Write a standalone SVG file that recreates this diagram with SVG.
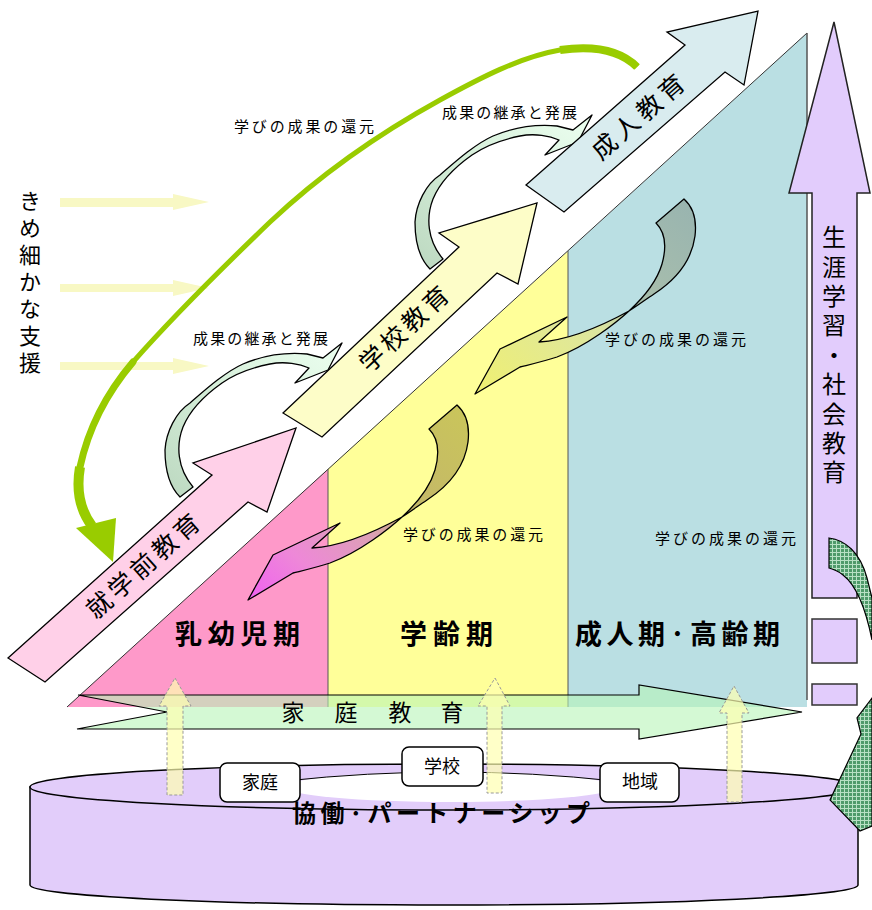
<svg xmlns="http://www.w3.org/2000/svg" width="872" height="910" viewBox="0 0 872 910">
<defs>
<style>
text{font-family:"Noto Sans CJK JP","Noto Sans CJK SC",sans-serif;fill:#000}
.lbl{font-size:15px}
.big{font-size:27px;font-weight:700}
.vt{writing-mode:vertical-rl}
.out{stroke:#000;stroke-width:1.3;stroke-linejoin:round}
.vup{fill:#ffffb0;fill-opacity:0.7;stroke:#999;stroke-width:1;stroke-dasharray:3 2}
.side{fill:#f8f8c4}
.box{fill:#fff;stroke:#000;stroke-width:1.5}
.blk{fill:#e2ccfc;stroke:#333;stroke-width:1.5}
</style>
<pattern id="hatch" width="4" height="4" patternUnits="userSpaceOnUse">
<rect width="4" height="4" fill="#4f9a6a"/>
<path d="M0,0.5 H4 M0.5,0 V4" stroke="#b8e0c4" stroke-width="1"/>
</pattern>
<linearGradient id="gC" x1="0" y1="1" x2="1" y2="0">
<stop offset="0" stop-color="#bcd8c0"/><stop offset="0.5" stop-color="#d6efda"/><stop offset="1" stop-color="#ecfff0"/>
</linearGradient>
<linearGradient id="gB" x1="1" y1="0" x2="0" y2="1">
<stop offset="0" stop-color="#cac65a"/><stop offset="0.38" stop-color="#c4b868"/><stop offset="0.55" stop-color="#dca0b4"/><stop offset="0.78" stop-color="#ee88d8"/><stop offset="1" stop-color="#f060f0"/>
</linearGradient>
<linearGradient id="gA" x1="1" y1="0" x2="0" y2="1">
<stop offset="0" stop-color="#98b4b0"/><stop offset="0.38" stop-color="#a8beac"/><stop offset="0.55" stop-color="#dde6a0"/><stop offset="1" stop-color="#f0f070"/>
</linearGradient>
<path id="curveC" d="M180,497 C170,487 165,470 165,450 C166,432 176,412 190,403 C205,390 225,372 243,364 C262,356 285,352 307,354 L323,358 L342,343 L328,370 L295,383 L309,368 C300,364 285,361 270,364 C250,368 235,374 222,383 C205,395 190,410 183,427 C176,445 177,468 193,487 Z"/>
<path id="ribbon" d="M429,429 L457,405 C466,413 470,425 468,442 C465,465 450,485 427,500 C418,506 410,512 402,517 C390,528 360,552 330,563 C318,567 305,570 293,573 L248,600 L273,555 L340,523 L312,548 C330,547 360,540 402,517 C415,505 430,487 435,470 C440,452 438,438 429,429 Z"/>
</defs>

<rect width="872" height="910" fill="#fff"/>

<g id="life-stages">
<polygon points="67,707 328,469 328,707" fill="#fe99c9"/>
<polygon points="328,469 568,251 568,707 328,707" fill="#ffff99"/>
<polygon points="568,251 807,33 807,707 568,707" fill="#badfe3"/>
<line x1="67" y1="707" x2="807" y2="33" stroke="#333" stroke-width="1"/>
<line x1="328" y1="469" x2="328" y2="707" stroke="#555" stroke-width="1"/>
<line x1="568" y1="251" x2="568" y2="707" stroke="#555" stroke-width="1"/>
<line x1="807" y1="33" x2="807" y2="700" stroke="#555" stroke-width="1.5"/>
<text class="big" x="175" y="644" textLength="125" lengthAdjust="spacing">乳幼児期</text>
<text class="big" x="400" y="644" textLength="93" lengthAdjust="spacing">学齢期</text>
<text class="big" x="575" y="644" textLength="205" lengthAdjust="spacing">成人期·高齢期</text>
</g>

<g id="family-education">
<polygon points="78,695 639,695 639,685 802,712 639,739 639,729 77,729 167,712" fill="#b8f5b8" fill-opacity="0.6" stroke="#000" stroke-width="1.2"/>
<text y="721" font-size="23" text-anchor="middle"><tspan x="293">家</tspan><tspan x="346">庭</tspan><tspan x="400">教</tspan><tspan x="452">育</tspan></text>
</g>

<g id="partnership">
<path d="M30,787 V885 A414,20 0 0 0 858,885 V787 Z" fill="#e2cdfa" stroke="#000" stroke-width="1.5"/>
<ellipse cx="444" cy="787" rx="414" ry="23" fill="#e2cdfa" stroke="#000" stroke-width="1.5"/>
<ellipse cx="450" cy="787" rx="165" ry="15" fill="#fff"/>
<path d="M285,781 Q450,763 615,781" fill="none" stroke="#000" stroke-width="1"/>
<text x="292" y="822" font-size="24" font-weight="700" textLength="298" lengthAdjust="spacing">協働·パートナーシップ</text>
</g>
<g id="box-home">
<rect class="box" x="220" y="763" width="80" height="39" rx="7"/>
<text x="260" y="789" font-size="18" text-anchor="middle">家庭</text>
</g>
<g id="box-school">
<rect class="box" x="402" y="747" width="81" height="39" rx="7"/>
<text x="442" y="773" font-size="18" text-anchor="middle">学校</text>
</g>
<g id="box-community">
<rect class="box" x="600" y="763" width="79" height="39" rx="7"/>
<text x="640" y="788" font-size="18" text-anchor="middle">地域</text>
</g>

<g id="lifelong-learning">
<polygon points="834,22 870,193 857,193 857,598 812,598 812,193 789,193" fill="#e2ccfc" stroke="#222" stroke-width="1.5"/>
<rect class="blk" x="812" y="619" width="45" height="44"/>
<rect class="blk" x="812" y="684" width="45" height="21"/>
<text class="vt" x="834" y="225" font-size="24" letter-spacing="5.4">生涯学習・社会教育</text>
</g>

<g id="fine-support">
<text class="vt" x="30" y="190" font-size="22" letter-spacing="5">きめ細かな支援</text>
<polygon class="side" points="60,198 173,198 173,194 209,202 173,210 173,207 60,207"/>
<polygon class="side" points="60,284 173,284 173,280 209,288 173,296 173,292 60,292"/>
<polygon class="side" points="60,362 173,362 173,358 209,366 173,374 173,370 60,370"/>
</g>

<g id="connectors">
<g fill="none" stroke="#99cc00">
<path d="M637,67 C620,50 595,45 560,50 C520,57 480,78 440,100 C380,133 320,175 270,222 C220,270 170,320 133,362 C105,395 88,430 80,467 C76,490 80,510 92,526" stroke-width="5"/>
<path d="M637,67 C620,50 595,45 560,50" stroke-width="8"/>
<path d="M133,362 C105,395 88,430 80,467" stroke-width="7" stroke-linecap="round"/>
<path d="M80,467 C76,490 80,510 92,526" stroke-width="10"/>
</g>
<polygon points="76,528 116,518 113,562" fill="#99cc00"/>
<use href="#curveC" fill="url(#gC)" class="out"/>
<use href="#curveC" transform="translate(250,-228)" fill="url(#gC)" class="out"/>
<use href="#ribbon" fill="url(#gB)" class="out"/>
<use href="#ribbon" transform="translate(227,-206)" fill="url(#gA)" class="out"/>
<polygon class="vup" points="175,678 191,706 183,706 183,795 167,795 167,706 159,706"/>
<polygon class="vup" points="495,678 510,706 502,706 502,793 487,793 487,706 478,706"/>
<polygon class="vup" points="734,686 749,713 742,713 742,802 727,802 727,713 719,713"/>
<path d="M829,538 C845,540 860,552 867,578 L872,598 L872,640 C866,610 856,585 843,575 C838,571 833,569 829,568 Z" fill="url(#hatch)" stroke="#000" stroke-width="1.2"/>
<path d="M872,698 L857,718 L861,734 L830,800 L860,831 L872,826 Z" fill="url(#hatch)" stroke="#000" stroke-width="1.2"/>
</g>

<g id="preschool-education">
<polygon points="8,658 212,475 193,463 296,428 267,512 248,502 45,682" fill="#ffd0e8" stroke="#000" stroke-width="1.3"/>
<text transform="translate(143,566) rotate(-41.7)" x="-71" y="9" font-size="25" textLength="142" lengthAdjust="spacing">就学前教育</text>
</g>
<g id="school-education">
<polygon points="283,413 459,247 439,233 537,203 518,284 497,273 322,437" fill="#fdfdc8" stroke="#000" stroke-width="1.3"/>
<text transform="translate(404,329) rotate(-43)" x="-56" y="9" font-size="25" textLength="112" lengthAdjust="spacing">学校教育</text>
</g>
<g id="adult-education">
<polygon points="526,185 685,45 667,32 758,11 744,85 725,72 564,212" fill="#d9ecef" stroke="#000" stroke-width="1.3"/>
<text transform="translate(638,117) rotate(-41)" x="-57" y="9" font-size="25" textLength="114" lengthAdjust="spacing">成人教育</text>
</g>

<g id="labels">
<text class="lbl" x="234" y="132" textLength="140" lengthAdjust="spacing">学びの成果の還元</text>
<text class="lbl" x="605" y="345" textLength="141" lengthAdjust="spacing">学びの成果の還元</text>
<text class="lbl" x="403" y="540" textLength="140" lengthAdjust="spacing">学びの成果の還元</text>
<text class="lbl" x="655" y="544" textLength="141" lengthAdjust="spacing">学びの成果の還元</text>
<text class="lbl" x="193" y="344" textLength="135" lengthAdjust="spacing">成果の継承と発展</text>
<text class="lbl" x="442" y="118" textLength="135" lengthAdjust="spacing">成果の継承と発展</text>
</g>
</svg>
